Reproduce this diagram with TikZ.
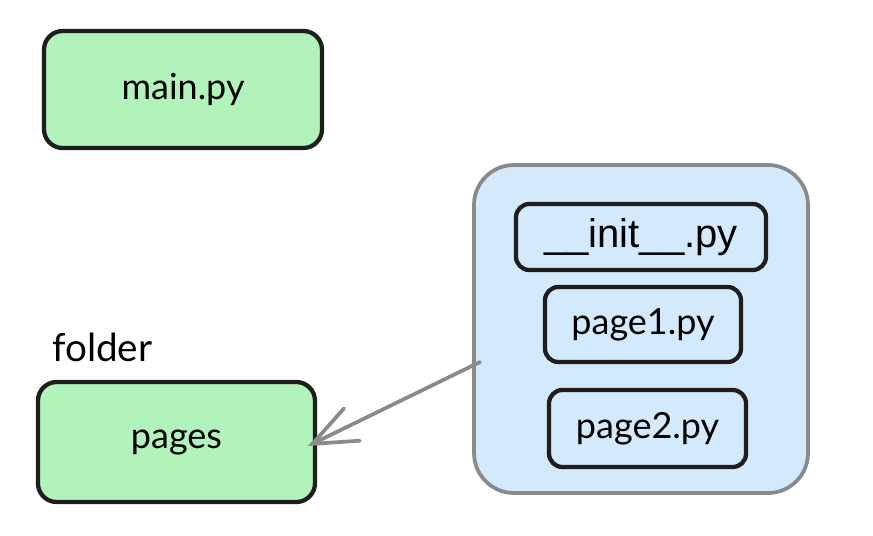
\documentclass[tikz,border=0pt]{standalone}
\usepackage{fontspec}
\setmainfont{Lato}
\newfontfamily\initfont{Liberation Sans}
\usetikzlibrary{positioning, arrows.meta}
\definecolor{filegreen}{HTML}{B2F2BB}
\definecolor{folderblue}{HTML}{D3E9FC}
\definecolor{edgegray}{HTML}{8A8A8A}
\definecolor{inkblack}{HTML}{1E1E1E}

\begin{document}
\begin{tikzpicture}[x=0.75pt, y=-0.75pt,
    filebox/.style={draw=inkblack, line width=3.2pt, rounded corners=10pt, inner sep=0pt, outer sep=0pt,
        font=\fontsize{27}{30}\selectfont},
    greenbox/.style={filebox, fill=filegreen, rounded corners=14pt},
    folderbox/.style={draw=edgegray, fill=folderblue, line width=2.8pt, outer sep=0pt, rounded corners=30pt},
    link/.style={draw=edgegray, line width=2.8pt, line cap=round,
        -{Straight Barb[length=33pt, width=27pt, line cap=round]}}]
    \useasboundingbox (0,0) rectangle (873,535);

    % Top level files
    \node[greenbox, minimum width=208.5pt, minimum height=87.75pt] (main) at (183,89.5) {main.py};
    \node[greenbox, minimum width=207.75pt, minimum height=90pt, below=175.5pt of main, xshift=-4.9pt] (pages) {pages};
    \node[inner sep=0pt, font=\fontsize{29}{32}\selectfont, above right=15pt and 10.5pt of pages.north west] (folder) {folder};

    % Package contents
    \node[folderbox, minimum width=250.5pt, minimum height=246pt] (pkg) at (641,329) {};
    \node[filebox, font=\initfont\fontsize{30}{34}\selectfont, minimum width=187.5pt, minimum height=49.5pt,
        below=29.25pt of pkg.north] (init) {\_\_init\_\_.py};
    \node[filebox, minimum width=147pt, minimum height=56.25pt, below=12.75pt of init, xshift=1.5pt] (page1) {page1.py};
    \node[filebox, minimum width=147.75pt, minimum height=57.75pt, below=21pt of page1, xshift=3.4pt] (page2) {page2.py};

    % Link
    \coordinate (tail) at ([shift={(4.5pt,-24.75pt)}]pkg.west);
    \draw[link] (tail) -- ([shift={(-5.25pt,-3pt)}]pages.east);
\end{tikzpicture}
\end{document}
